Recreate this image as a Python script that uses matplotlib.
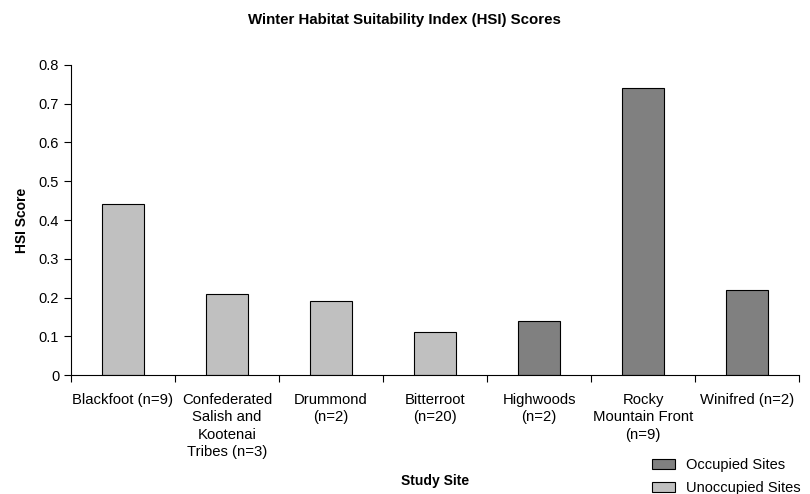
import matplotlib
matplotlib.use("Agg")
import matplotlib.pyplot as plt
import numpy as np

plt.rcParams['font.family'] = ['Liberation Sans', 'DejaVu Sans']

categories = ["Blackfoot (n=9)", "Confederated\nSalish and\nKootenai\nTribes (n=3)",
              "Drummond\n(n=2)", "Bitterroot\n(n=20)", "Highwoods\n(n=2)",
              "Rocky\nMountain Front\n(n=9)", "Winifred (n=2)"]
values = [0.44, 0.21, 0.19, 0.11, 0.14, 0.74, 0.22]
occupied = [False, False, False, False, True, True, True]
yticks = [0, 0.1, 0.2, 0.3, 0.4, 0.5, 0.6, 0.7, 0.8]
ytick_labels = ["0", "0.1", "0.2", "0.3", "0.4", "0.5", "0.6", "0.7", "0.8"]

c_occ = "#808080"
c_unocc = "#C0C0C0"

fig = plt.figure(figsize=(8.10, 4.94), dpi=100)
ax = fig.add_axes([71/810, 119/494, 728/810, 310/494])

x = np.arange(len(categories))
colors = [c_occ if o else c_unocc for o in occupied]
ax.bar(x, values, width=0.4, color=colors, edgecolor="black", linewidth=0.8)

ax.set_xlim(-0.5, len(categories) - 0.5)
ax.set_ylim(0, 0.8)
ax.set_yticks(yticks)
ax.set_yticklabels(ytick_labels, fontsize=10.5)
ax.set_xticks(x)
ax.set_xticklabels(categories, fontsize=10.7, va="top", linespacing=1.3)
ax.tick_params(axis="x", which="major", length=0, pad=13)
ax.set_xticks(np.arange(len(categories) + 1) - 0.5, minor=True)
ax.tick_params(axis="x", which="minor", length=5, width=0.8)
ax.tick_params(axis="y", length=5, width=0.8)

for s in ["top", "right"]:
    ax.spines[s].set_visible(False)
for s in ["left", "bottom"]:
    ax.spines[s].set_linewidth(0.8)

ax.set_ylabel("HSI Score", fontsize=10, fontweight="bold", labelpad=7)
fig.text(435/810, 1 - 481/494, "Study Site", fontsize=10, fontweight="bold", ha="center", va="center")
fig.text(404/810, 1 - 20/494, "Winter Habitat Suitability Index (HSI) Scores",
         fontsize=10.8, fontweight="bold", ha="center", va="center")

from matplotlib.patches import Patch
handles = [Patch(facecolor=c_occ, edgecolor="black", linewidth=0.8, label="Occupied Sites"),
           Patch(facecolor=c_unocc, edgecolor="black", linewidth=0.8, label="Unoccupied Sites")]
fig.legend(handles=handles, loc="lower right", bbox_to_anchor=(0.997, -0.017), frameon=False,
           borderpad=0, fontsize=10.5, handlelength=1.6, handleheight=0.6,
           labelspacing=0.62, handletextpad=0.7)

fig.savefig("out.png", dpi=100)
